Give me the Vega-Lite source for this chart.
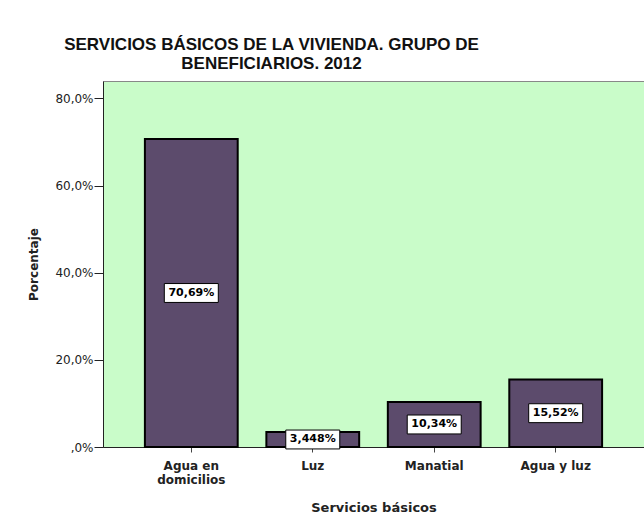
{
  "$schema": "https://vega.github.io/schema/vega-lite/v6.json",
  "width": 541,
  "height": 366,
  "autosize": "none",
  "padding": {"left": 103, "top": 81, "right": 0, "bottom": 78},
  "background": "white",
  "title": {
    "text": ["SERVICIOS BÁSICOS DE LA VIVIENDA. GRUPO DE", "BENEFICIARIOS. 2012"],
    "font": "Liberation Sans",
    "fontSize": 17,
    "fontWeight": "bold",
    "color": "#111",
    "anchor": "middle",
    "dx": -102,
    "offset": 8,
    "lineHeight": 19
  },
  "data": {
    "values": [
      {"servicio": "Agua en domicilios", "porcentaje": 70.69, "label": "70,69%"},
      {"servicio": "Luz", "porcentaje": 3.448, "label": "3,448%"},
      {"servicio": "Manatial", "porcentaje": 10.34, "label": "10,34%"},
      {"servicio": "Agua y luz", "porcentaje": 15.52, "label": "15,52%"}
    ]
  },
  "transform": [{"calculate": "datum.porcentaje / 2", "as": "mid"}],
  "encoding": {
    "x": {
      "field": "servicio",
      "type": "nominal",
      "sort": null,
      "scale": {"paddingInner": 0.236, "paddingOuter": 0.345},
      "axis": {
        "title": "Servicios básicos",
        "labelAngle": 0,
        "labelExpr": "datum.value == 'Agua en domicilios' ? ['Agua en', 'domicilios'] : datum.value",
        "labelFont": "DejaVu Sans",
        "labelFontSize": 12,
        "labelFontWeight": "bold",
        "labelColor": "#222",
        "labelLineHeight": 14,
        "labelPadding": 8,
        "tickSize": 5,
        "tickColor": "#444",
        "domainColor": "#222",
        "titleFont": "DejaVu Sans",
        "titleFontSize": 13,
        "titleFontWeight": "bold",
        "titleColor": "#222",
        "titlePadding": 16
      }
    }
  },
  "layer": [
    {
      "mark": {"type": "bar", "fill": "#5c4b6c", "stroke": "#000", "strokeWidth": 2},
      "encoding": {
        "y": {
          "field": "porcentaje",
          "type": "quantitative",
          "scale": {"domain": [0, 84], "nice": false},
          "axis": {
            "title": "Porcentaje",
            "values": [0, 20, 40, 60, 80],
            "grid": false,
            "labelExpr": "datum.value == 0 ? ',0%' : replace(format(datum.value, '.1f'), '.', ',') + '%'",
            "labelFont": "DejaVu Sans",
            "labelFontSize": 12,
            "labelColor": "#222",
            "labelPadding": 1,
            "tickSize": 9,
            "tickColor": "#222",
            "domainColor": "#222",
            "titleFont": "DejaVu Sans",
            "titleFontSize": 12,
            "titleFontWeight": "bold",
            "titleColor": "#222",
            "titlePadding": 14
          }
        }
      }
    },
    {
      "mark": {"type": "point", "shape": "M-1,-0.35H1V0.35H-1Z", "filled": true, "fill": "white", "stroke": "#000", "strokeWidth": 1, "opacity": 1, "size": 2916},
      "encoding": {
        "y": {"field": "mid", "type": "quantitative"}
      }
    },
    {
      "mark": {"type": "text", "font": "DejaVu Sans", "fontSize": 11, "fontWeight": "bold", "color": "#000", "baseline": "middle", "align": "center"},
      "encoding": {
        "y": {"field": "mid", "type": "quantitative"},
        "text": {"field": "label"}
      }
    }
  ],
  "config": {
    "view": {"fill": "#c9fcc9", "stroke": "#888", "strokeWidth": 1}
  }
}
